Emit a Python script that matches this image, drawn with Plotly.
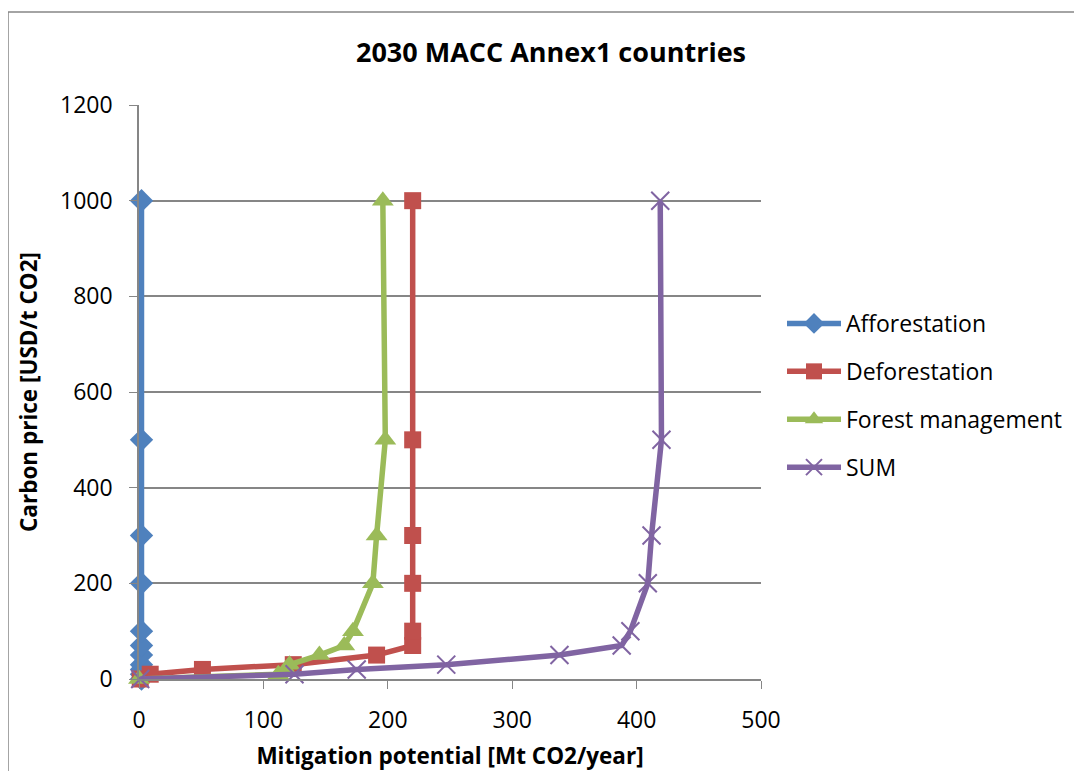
import plotly.graph_objects as go

prices = [0, 10, 20, 30, 50, 70, 100, 200, 300, 500, 1000]
afforestation = [2, 2, 2, 2, 2, 2, 2, 2, 2, 2, 2]
deforestation = [1, 9, 51, 124, 191, 220, 220, 220, 220, 220, 220]
forest_mgmt = [0, 112, 118, 121, 145, 165, 172, 188, 191, 198, 196]
sum_total = [1, 125, 175, 247, 338, 388, 395, 409, 412, 420, 419]

x_ticks = [0, 100, 200, 300, 400, 500]
y_ticks = [0, 200, 400, 600, 800, 1000, 1200]

FONT = "Open Sans"

series = [
    ("Afforestation", afforestation, "#4F81BD", "diamond", 18, 0),
    ("Deforestation", deforestation, "#C0504D", "square", 17, 0),
    ("Forest management", forest_mgmt, "#9BBB59", "triangle-up", 19, 0),
    ("SUM", sum_total, "#8064A2", "x-thin", 18, 2),
]

fig = go.Figure()
for i, (name, xs, color, sym, size, lw) in enumerate(series):
    marker = dict(symbol=sym, size=size, color=color)
    if sym == "x-thin":
        marker["line"] = dict(color=color, width=lw)
    fig.add_trace(go.Scatter(
        x=xs, y=prices, name=name, mode="lines+markers",
        line=dict(color=color, width=5.5),
        marker=marker, cliponaxis=False, legendgroup=f"g{i}",
    ))

W, H = 1074, 763
L, R, T, B = 131, 321, 97, 92
PW, PH = W - L - R, H - T - B

fig.update_layout(
    width=W, height=H,
    margin=dict(l=L, r=R, t=T, b=B, autoexpand=False),
    paper_bgcolor="white", plot_bgcolor="white",
    font=dict(family=FONT, size=23, color="black"),
    title=dict(text="<b>2030 MACC Annex1 countries</b>", x=543 / W, xanchor="center",
               y=1 - 45 / H, yanchor="middle", font=dict(family=FONT, size=27)),
    legend=dict(x=(774 - L) / PW, y=1 - (294 - T) / PH, xanchor="left", yanchor="top",
                font=dict(family=FONT, size=23), tracegroupgap=15,
                bgcolor="rgba(0,0,0,0)", itemwidth=54),
    showlegend=True,
)
fig.update_xaxes(
    range=[0, 500], tickvals=x_ticks, showgrid=False, zeroline=False,
    showline=True, linecolor="#868686", linewidth=1.5,
    ticks="outside", ticklen=8, tickcolor="#868686", ticklabelstandoff=12,
    tickfont=dict(family=FONT, size=23),
    title=dict(text="<b>Mitigation potential [Mt CO2/year]</b>", standoff=16,
               font=dict(family=FONT, size=22.5)),
)
fig.update_yaxes(
    range=[0, 1200], tickvals=y_ticks, showgrid=True, gridcolor="#868686", gridwidth=1.5,
    zeroline=False, showline=True, linecolor="#868686", linewidth=1.5,
    ticks="outside", ticklen=8, tickcolor="#868686", ticklabelstandoff=12,
    tickfont=dict(family=FONT, size=23),
    title=dict(text="<b>Carbon price [USD/t CO2]</b>", standoff=16,
               font=dict(family=FONT, size=22.5)),
)
fig.add_shape(type="rect", xref="paper", yref="paper",
              x0=-L / PW, x1=(W + 20 - L) / PW, y0=-(B + 20) / PH, y1=(H - B - 4) / PH,
              line=dict(color="#868686", width=1.5), fillcolor="rgba(0,0,0,0)", layer="below")

fig.write_html("out.html")
